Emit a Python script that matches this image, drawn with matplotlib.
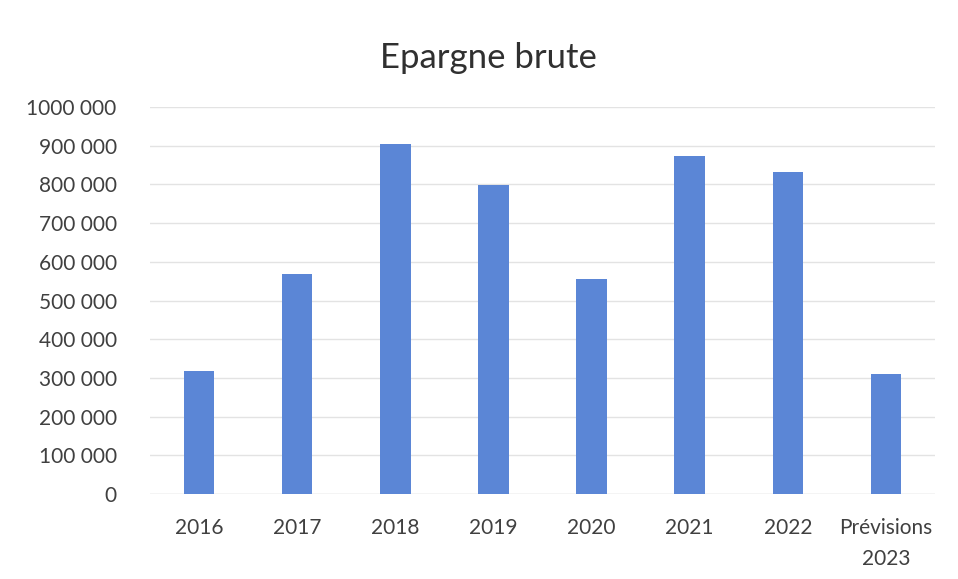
import matplotlib.pyplot as plt
from matplotlib.ticker import FuncFormatter

categories = ["2016", "2017", "2018", "2019", "2020", "2021", "2022", "Prévisions\n2023"]
epargne = [318000, 569000, 905000, 799000, 556000, 873000, 833000, 309000]
yticks = [0, 100000, 200000, 300000, 400000, 500000, 600000, 700000, 800000, 900000, 1000000]

plt.rcParams['font.family'] = ['Lato', 'DejaVu Sans']


def fmt(v, pos):
    # Excel style: "1000 000", "900 000", "0"
    v = int(round(v))
    if v == 0:
        return "0"
    return f"{v // 1000} {v % 1000:03d}"


fig = plt.figure(figsize=(9.58, 5.79), dpi=100)
ax = fig.add_axes([0.1566, 0.1468, 0.8194, 0.6684])

x = range(len(categories))
ax.bar(x, epargne, width=0.31, color='#5b86d6', zorder=3)

ax.set_xlim(-0.5, len(categories) - 0.5)
ax.set_ylim(0, 1000000)
ax.set_yticks(yticks)
ax.yaxis.set_major_formatter(FuncFormatter(fmt))
ax.set_xticks(list(x))
ax.set_xticklabels(categories, fontsize=15, color='#404040', linespacing=1.7)
ax.tick_params(axis='y', labelsize=15, labelcolor='#404040', length=0, pad=24)
ax.tick_params(axis='x', length=0, pad=17)

ax.grid(axis='y', color='#e3e3e3', linewidth=1, zorder=0)
for s in ax.spines.values():
    s.set_visible(False)
ax.axhline(0, color='#e0e0e0', linewidth=1, zorder=2)

fig.suptitle("Epargne brute", fontsize=25, color='#303030', x=0.51, y=0.9, va='center')

fig.savefig("out.png", dpi=100)
